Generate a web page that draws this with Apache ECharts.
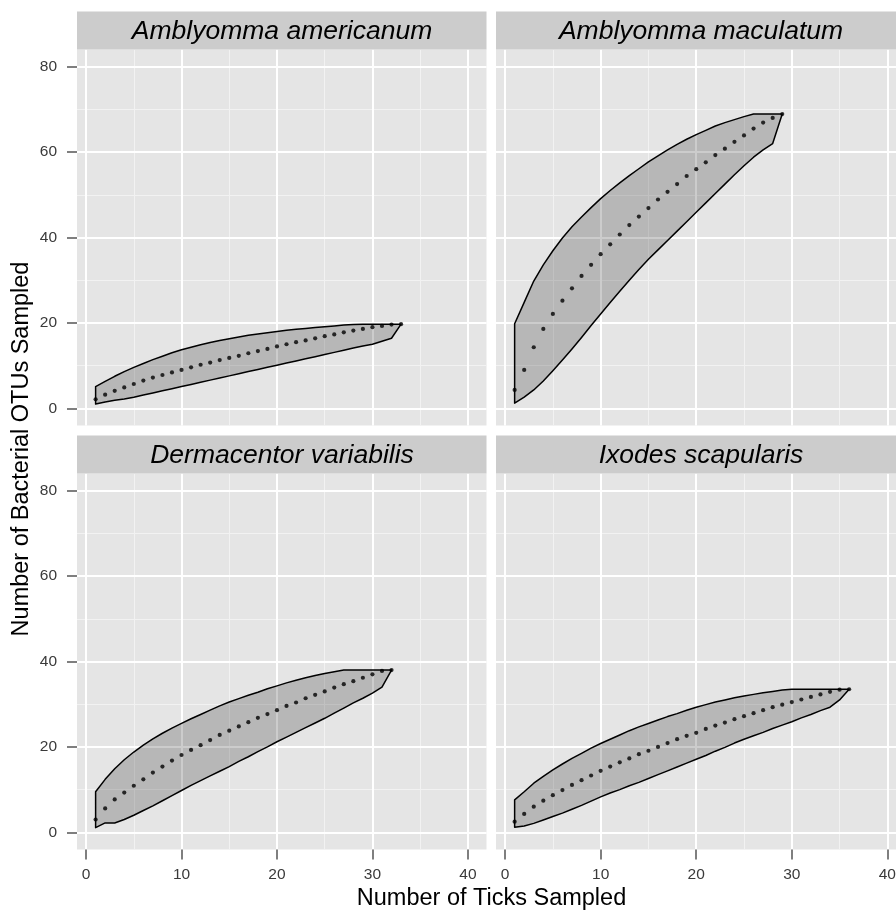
<!DOCTYPE html>
<html>
<head>
<meta charset="utf-8">
<title>Tick OTU accumulation curves</title>
<script src="https://cdn.jsdelivr.net/npm/echarts@6/dist/echarts.min.js"></script>
<style>
  html, body { margin: 0; padding: 0; background: #ffffff; overflow: hidden; }
  /* the right-hand facets run a few pixels past the window edge */
  #chart { width: 912px; height: 913px; }
</style>
</head>
<body>
<div id="chart"></div>
<script>
// Species shown in the four facets (row by row)
const species = ['Amblyomma americanum', 'Amblyomma maculatum', 'Dermacentor variabilis', 'Ixodes scapularis'];

// Mean OTUs per number of ticks sampled (index 0 = 1 tick) with lower / upper envelope
const americanumMean  = [2.1, 3.2, 4.1, 4.9, 5.7, 6.5, 7.2, 7.8, 8.4, 9.0, 9.6, 10.2, 10.7, 11.3, 11.8, 12.3, 12.9, 13.4, 13.9, 14.5, 15.0, 15.5, 15.9, 16.4, 16.9, 17.3, 17.8, 18.2, 18.6, 19.0, 19.3, 19.6, 19.7];
const americanumUpper = [5.1, 6.3, 7.5, 8.6, 9.6, 10.5, 11.4, 12.2, 13.0, 13.7, 14.3, 14.9, 15.4, 15.9, 16.3, 16.7, 17.1, 17.4, 17.7, 18.0, 18.3, 18.5, 18.7, 18.9, 19.1, 19.3, 19.5, 19.6, 19.7, 19.7, 19.7, 19.7, 19.7];
const americanumLower = [1.0, 1.5, 1.9, 2.2, 2.6, 3.1, 3.6, 4.1, 4.6, 5.1, 5.6, 6.1, 6.6, 7.1, 7.6, 8.1, 8.6, 9.1, 9.6, 10.1, 10.6, 11.1, 11.6, 12.1, 12.6, 13.1, 13.6, 14.1, 14.6, 15.0, 15.7, 16.4, 19.7];

const maculatumMean  = [4.3, 9.0, 14.3, 18.6, 22.1, 25.2, 28.1, 31.0, 33.6, 36.1, 38.4, 40.7, 42.9, 44.9, 46.9, 48.9, 50.7, 52.5, 54.4, 56.0, 57.6, 59.3, 60.8, 62.4, 63.9, 65.5, 66.9, 68.0, 68.9];
const maculatumUpper = [19.8, 24.8, 29.8, 33.6, 36.9, 39.9, 42.5, 44.8, 47.0, 49.1, 51.0, 52.8, 54.5, 56.1, 57.7, 59.1, 60.5, 61.8, 63.0, 64.1, 65.1, 66.1, 66.9, 67.6, 68.3, 68.9, 68.9, 68.9, 68.9];
const maculatumLower = [1.2, 2.6, 4.3, 6.4, 8.8, 11.3, 13.9, 16.6, 19.4, 22.1, 24.8, 27.4, 30.0, 32.5, 34.9, 37.1, 39.3, 41.5, 43.7, 45.9, 48.1, 50.3, 52.5, 54.7, 56.8, 58.8, 60.5, 62.0, 68.9];

const variabilisMean  = [3.0, 5.6, 7.7, 9.3, 10.9, 12.4, 14.0, 15.4, 16.8, 18.1, 19.3, 20.4, 21.6, 22.8, 23.8, 24.8, 25.8, 26.8, 27.7, 28.6, 29.6, 30.4, 31.4, 32.2, 33.0, 33.9, 34.7, 35.4, 36.2, 37.0, 37.8, 38.0];
const variabilisUpper = [9.5, 12.4, 14.9, 17.0, 18.8, 20.4, 21.9, 23.2, 24.4, 25.5, 26.6, 27.6, 28.6, 29.6, 30.5, 31.3, 32.1, 32.8, 33.6, 34.3, 35.0, 35.6, 36.2, 36.7, 37.2, 37.6, 38.0, 38.0, 38.0, 38.0, 38.0, 38.0];
const variabilisLower = [1.1, 2.2, 2.2, 3.0, 4.0, 5.1, 6.2, 7.4, 8.6, 9.8, 11.0, 12.1, 13.2, 14.3, 15.4, 16.6, 17.7, 18.9, 20.0, 21.2, 22.3, 23.4, 24.5, 25.6, 26.7, 27.9, 29.1, 30.3, 31.4, 32.6, 34.0, 38.0];

const scapularisMean  = [2.5, 4.3, 6.0, 7.4, 8.7, 9.9, 11.1, 12.2, 13.3, 14.4, 15.4, 16.4, 17.3, 18.3, 19.1, 20.0, 20.9, 21.8, 22.6, 23.3, 24.2, 25.0, 25.7, 26.5, 27.2, 27.9, 28.6, 29.3, 29.9, 30.5, 31.1, 31.7, 32.3, 32.9, 33.4, 33.5];
const scapularisUpper = [7.6, 9.5, 11.5, 13.1, 14.6, 16.0, 17.3, 18.5, 19.7, 20.8, 21.8, 22.8, 23.8, 24.7, 25.5, 26.3, 27.1, 27.8, 28.6, 29.3, 29.9, 30.5, 31.0, 31.5, 31.9, 32.3, 32.7, 33.0, 33.3, 33.5, 33.5, 33.5, 33.5, 33.5, 33.5, 33.5];
const scapularisLower = [1.2, 1.5, 2.1, 2.9, 3.7, 4.5, 5.4, 6.3, 7.3, 8.3, 9.2, 10.0, 10.9, 11.7, 12.6, 13.5, 14.4, 15.3, 16.2, 17.1, 18.0, 19.0, 19.9, 20.9, 21.8, 22.6, 23.4, 24.3, 25.1, 25.9, 26.8, 27.6, 28.5, 29.3, 31.0, 33.5];

// Axis breaks
const xTicks = [0, 10, 20, 30, 40];
const xMinor = [5, 15, 25, 35];
const yTicks = [0, 20, 40, 60, 80];
const yMinor = [10, 30, 50, 70];

const xTitle = 'Number of Ticks Sampled';
const yTitle = 'Number of Bacterial OTUs Sampled';

const panels = [
  { name: species[0], mean: americanumMean, upper: americanumUpper, lower: americanumLower },
  { name: species[1], mean: maculatumMean,  upper: maculatumUpper,  lower: maculatumLower },
  { name: species[2], mean: variabilisMean, upper: variabilisUpper, lower: variabilisLower },
  { name: species[3], mean: scapularisMean, upper: scapularisUpper, lower: scapularisLower }
];

// Shared scale limits (data range expanded by 5% on each side)
const X_MIN = -0.95, X_MAX = 41.95;
const Y_MIN = -4, Y_MAX = 84;

const FONT = '"Liberation Sans", Arial, Helvetica, sans-serif';
const TICK_COLOR = '#3a3a3a';

// Facet layout in pixels
const boxes = [
  { left: 77,  top: 49.6,  width: 409.5, height: 375.8 },
  { left: 496, top: 49.6,  width: 410,   height: 375.8 },
  { left: 77,  top: 473.6, width: 409.5, height: 375.8 },
  { left: 496, top: 473.6, width: 410,   height: 375.8 }
];
const STRIP_H = 38;

const grid = boxes.map(b => ({
  left: b.left, top: b.top, width: b.width, height: b.height,
  show: true, backgroundColor: '#e5e5e5', borderWidth: 0
}));

const xAxis = [];
const yAxis = [];
boxes.forEach((b, g) => {
  const bottomRow = g >= 2;
  const leftCol = g % 2 === 0;
  // major breaks: ticks, labels, white grid lines
  xAxis.push({
    type: 'value', gridIndex: g, min: X_MIN, max: X_MAX, z: 1, position: 'bottom',
    axisLine: { show: false, onZero: false },
    axisTick: { show: bottomRow, customValues: xTicks, length: 10, lineStyle: { color: '#7f7f7f', width: 2 } },
    axisLabel: { show: bottomRow, customValues: xTicks, margin: 17, color: TICK_COLOR, fontSize: 15.5, fontFamily: FONT },
    splitLine: { show: true, lineStyle: { color: '#ffffff', width: 2 } }
  });
  // minor breaks: faint grid lines only
  xAxis.push({
    type: 'value', gridIndex: g, min: X_MIN, max: X_MAX, z: 0, position: 'top',
    axisLine: { show: false, onZero: false },
    axisTick: { show: false, customValues: xMinor },
    axisLabel: { show: false, customValues: xMinor },
    splitLine: { show: true, lineStyle: { color: '#f2f2f2', width: 1 } }
  });
  yAxis.push({
    type: 'value', gridIndex: g, min: Y_MIN, max: Y_MAX, z: 1, position: 'left',
    axisLine: { show: false, onZero: false },
    axisTick: { show: leftCol, customValues: yTicks, length: 10, lineStyle: { color: '#7f7f7f', width: 2 } },
    axisLabel: { show: leftCol, customValues: yTicks, margin: 20, color: TICK_COLOR, fontSize: 15.5, fontFamily: FONT },
    splitLine: { show: true, lineStyle: { color: '#ffffff', width: 2 } }
  });
  yAxis.push({
    type: 'value', gridIndex: g, min: Y_MIN, max: Y_MAX, z: 0, position: 'right',
    axisLine: { show: false, onZero: false },
    axisTick: { show: false, customValues: yMinor },
    axisLabel: { show: false, customValues: yMinor },
    splitLine: { show: true, lineStyle: { color: '#f2f2f2', width: 1 } }
  });
});

const series = [];
panels.forEach((p, g) => {
  // rows of [ticks sampled, lower, upper]
  const rows = p.mean.map((_, i) => [i + 1, p.lower[i], p.upper[i]]);
  series.push({
    type: 'custom',
    name: p.name + ' envelope',
    xAxisIndex: 2 * g, yAxisIndex: 2 * g,
    data: rows,
    z: 2, silent: true,
    renderItem: function (params, api) {
      if (params.dataIndex !== 0) return null;
      const top = rows.map(r => api.coord([r[0], r[2]]));
      const bottom = rows.slice().reverse().map(r => api.coord([r[0], r[1]]));
      return {
        type: 'polygon',
        shape: { points: top.concat(bottom) },
        style: { fill: 'rgba(0,0,0,0.2)', stroke: '#000000', lineWidth: 1.5, lineJoin: 'round' }
      };
    }
  });
  series.push({
    type: 'scatter',
    name: p.name,
    xAxisIndex: 2 * g, yAxisIndex: 2 * g,
    data: p.mean.map((v, i) => [i + 1, v]),
    symbol: 'circle', symbolSize: 4.2,
    itemStyle: { color: '#000000' },
    z: 3, silent: true
  });
});

// Facet strips and axis titles
const graphicEls = [];
boxes.forEach((b, g) => {
  graphicEls.push({
    type: 'rect', z: 5, silent: true,
    shape: { x: b.left, y: b.top - STRIP_H, width: b.width, height: STRIP_H },
    style: { fill: '#cccccc' }
  });
  graphicEls.push({
    type: 'text', z: 6, silent: true,
    x: b.left + 205, y: b.top - STRIP_H / 2 + 1.5,
    style: {
      text: panels[g].name, fill: '#000000',
      fontSize: 26.5, fontStyle: 'italic', fontFamily: FONT,
      align: 'center', verticalAlign: 'middle'
    }
  });
});
graphicEls.push({
  type: 'text', z: 6, silent: true,
  x: 491.5, y: 898.5,
  style: { text: xTitle, fill: '#000000', fontSize: 23.5, fontFamily: FONT, align: 'center', verticalAlign: 'middle' }
});
graphicEls.push({
  type: 'text', z: 6, silent: true,
  x: 22, y: 449, rotation: Math.PI / 2,
  style: { text: yTitle, fill: '#000000', fontSize: 23.5, fontFamily: FONT, align: 'center', verticalAlign: 'middle' }
});

const chart = echarts.init(document.getElementById('chart'), null, { renderer: 'canvas' });
chart.setOption({
  backgroundColor: '#ffffff',
  animation: false,
  grid: grid,
  xAxis: xAxis,
  yAxis: yAxis,
  series: series,
  graphic: { elements: graphicEls }
});
</script>
</body>
</html>
